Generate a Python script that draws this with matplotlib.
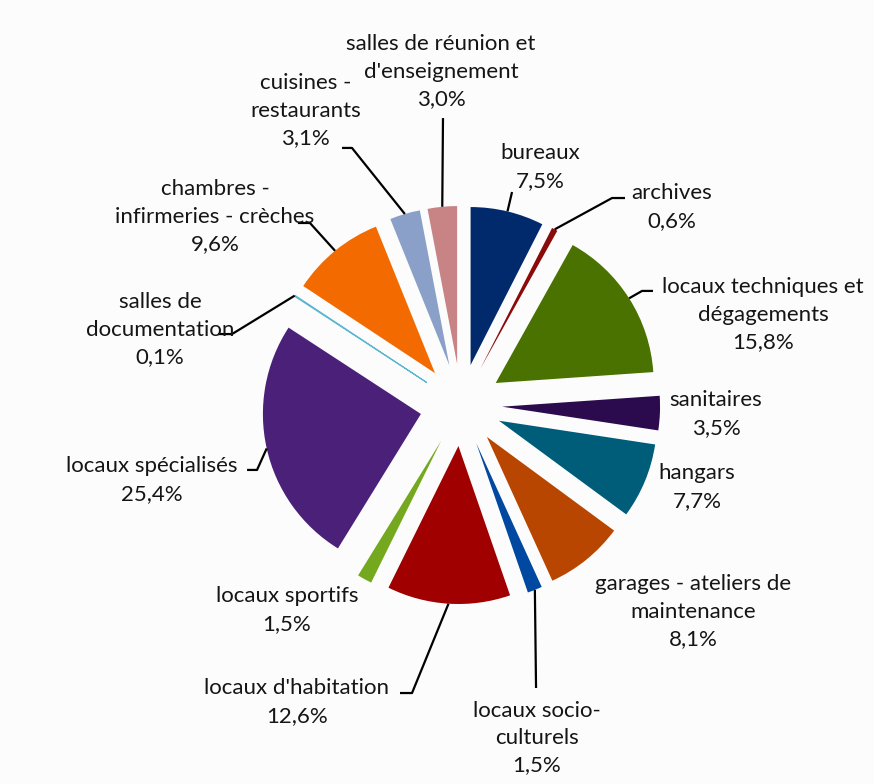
import numpy as np
import matplotlib.pyplot as plt

# répartition des surfaces par type de locaux (%)
categories = [
    "bureaux", "archives", "locaux techniques et\ndégagements", "sanitaires",
    "hangars", "garages - ateliers de\nmaintenance", "locaux socio-\nculturels",
    "locaux d'habitation", "locaux sportifs", "locaux spécialisés",
    "salles de\ndocumentation", "chambres -\ninfirmeries - crèches",
    "cuisines -\nrestaurants", "salles de réunion et\nd'enseignement",
]
parts = [7.5, 0.6, 15.8, 3.5, 7.7, 8.1, 1.5, 12.6, 1.5, 25.4, 0.1, 9.6, 3.1, 3.0]
colors = [
    "#002a6c", "#8b0a0a", "#4a7200", "#2b0a4e", "#005d7a", "#b84600", "#0048a0",
    "#a00000", "#74a81e", "#4a2079", "#5bb7cf", "#f26a00", "#8aa0c8", "#c88484",
]

# position du centre de chaque étiquette (unités du rayon)
label_pos = [
    (0.50, 1.506), (1.335, 1.253), (1.911, 0.570), (1.614, -0.057),
    (1.494, -0.519), (1.468, -1.310), (0.481, -2.108), (-1.038, -1.880),
    (-1.101, -1.297), (-1.956, -0.475), (-1.905, 0.475), (-1.557, 1.190),
    (-0.985, 1.861), (-0.127, 2.108),
]
# trajet des lignes de rappel (points après le bord de la part)
leaders = {
    0: [(0.323, 1.348)],
    1: [(0.956, 1.310), (1.038, 1.310)],
    2: [(1.146, 0.722), (1.215, 0.722)],
    6: [(0.475, -1.791)],
    7: [(-0.310, -1.823), (-0.386, -1.823)],
    9: [(-1.291, -0.411), (-1.354, -0.411)],
    10: [(-1.449, 0.449), (-1.538, 0.449)],
    11: [(-0.956, 1.152), (-1.032, 1.152)],
    12: [(-0.690, 1.627), (-0.753, 1.627)],
    13: [(-0.114, 1.816)],
}

explode = 0.26
W, H = 874, 784
cx, cy, R = 461, 405, 158

fig = plt.figure(figsize=(W / 100, H / 100), dpi=100, facecolor="#fcfcfc")
ax = fig.add_axes([0, 0, 1, 1])
ax.set_facecolor("#fcfcfc")

wedges, _ = ax.pie(parts, colors=colors, startangle=90, counterclock=False,
                   explode=[explode] * len(parts), radius=1.0,
                   wedgeprops=dict(linewidth=0))
wedges[10].set_edgecolor(colors[10])
wedges[10].set_linewidth(0.8)

ax.set_xlim(-cx / R, (W - cx) / R)
ax.set_ylim(-(H - cy) / R, cy / R)
ax.set_aspect("equal")
ax.axis("off")

for i, w in enumerate(wedges):
    val = parts[i]
    txt = f"{categories[i]}\n{val:.1f}%".replace(".", ",")
    x, y = label_pos[i]
    ax.text(x, y, txt, ha="center", va="center", fontsize=16,
            family="Lato", linespacing=1.47, color="#151515")
    if i in leaders:
        th = np.deg2rad((w.theta1 + w.theta2) / 2)
        sx, sy = (1 + explode) * np.cos(th), (1 + explode) * np.sin(th)
        pts = [(sx, sy)] + leaders[i]
        ax.plot([p[0] for p in pts], [p[1] for p in pts], color="black",
                lw=1.6, solid_capstyle="butt")

fig.savefig("out.png", dpi=100, facecolor=fig.get_facecolor())
